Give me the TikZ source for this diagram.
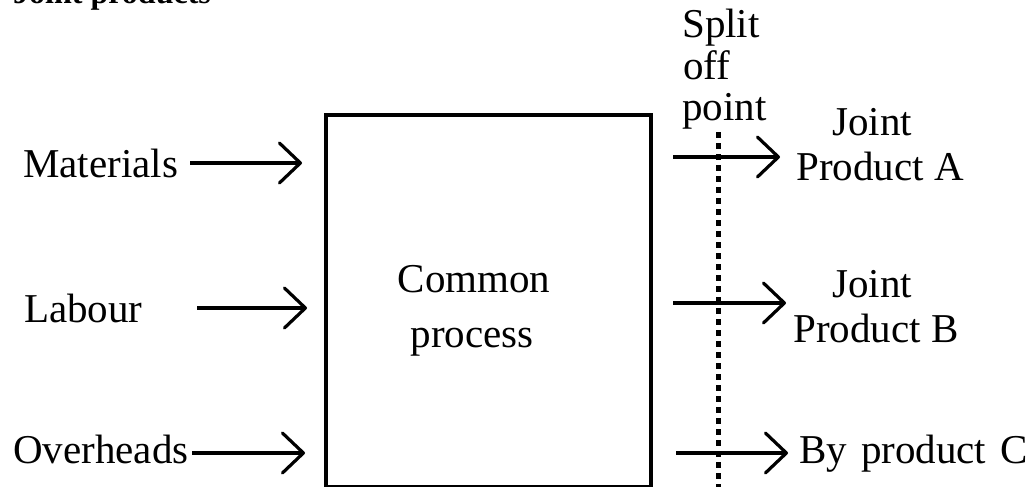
\documentclass[tikz,border=0pt]{standalone}
\usepackage{fontspec}
\setmainfont{Liberation Serif}
\usetikzlibrary{arrows.meta}
\begin{document}
\begin{tikzpicture}[x=1pt,y=-1pt,
  lbl/.style={inner sep=0pt,font=\fontsize{41}{41}\selectfont},
  ttl/.style={inner sep=0pt,font=\fontsize{32}{32}\selectfont\bfseries},
  flow/.style={line width=3.2pt,-{Straight Barb[length=21pt,width=40pt,round]}},
  boxline/.style={line width=3.6pt},
  splitline/.style={line width=5pt,dash pattern=on 6pt off 5pt}]
\useasboundingbox (0,0) rectangle (1028,487);
\clip (0,0) rectangle (1028,487);
% title (cut off at top, as in the reference)
\node[ttl,anchor=base west] (title) at (13,4) {Joint products};
% box
\node[boxline,draw,minimum width=325pt,minimum height=372pt,inner sep=0pt,anchor=north west] (box) at (324,113) {};
\node[lbl,anchor=base] (cp1) at (474,292) {Common};
\node[lbl,anchor=base] (cp2) at (472,347) {process};
% inputs
\node[lbl,anchor=base west] (mat) at (23,177) {Materials};
\node[lbl,anchor=base west] (lab) at (24,322) {Labour};
\node[lbl,anchor=base west] (ovh) at (13,463) {Overheads};
\coordinate (m1) at (190,163); \coordinate (m2) at (302,163);
\coordinate (l1) at (197,308); \coordinate (l2) at (307,308);
\coordinate (o1) at (192,453); \coordinate (o2) at (305,453);
\draw[flow] (m1) -- (m2);
\draw[flow] (l1) -- (l2);
\draw[flow] (o1) -- (o2);
% split-off point
\node[lbl,anchor=base west] (s1) at (682,38) {Split};
\node[lbl,anchor=base west] (s2) at (683,80) {off};
\node[lbl,anchor=base west] (s3) at (682,120) {point};
\coordinate (d1) at (718,132); \coordinate (d2) at (718,492);
\draw[splitline] (d1) -- (d2);
% outputs
\coordinate (a1) at (673,157); \coordinate (a2) at (780,157);
\coordinate (b1) at (673,303); \coordinate (b2) at (786,303);
\coordinate (c1) at (676,453); \coordinate (c2) at (788,453);
\draw[flow] (a1) -- (a2);
\draw[flow] (b1) -- (b2);
\draw[flow] (c1) -- (c2);
\node[lbl,anchor=base west] (ja1) at (832,135) {Joint};
\node[lbl,anchor=base west] (ja2) at (796,180) {Product A};
\node[lbl,anchor=base west] (jb1) at (832,297) {Joint};
\node[lbl,anchor=base west] (jb2) at (793,342) {Product B};
\node[lbl,anchor=base west] (pc) at (799,463) {By\hspace{14pt}product\hspace{14pt}C};
\end{tikzpicture}
\end{document}
